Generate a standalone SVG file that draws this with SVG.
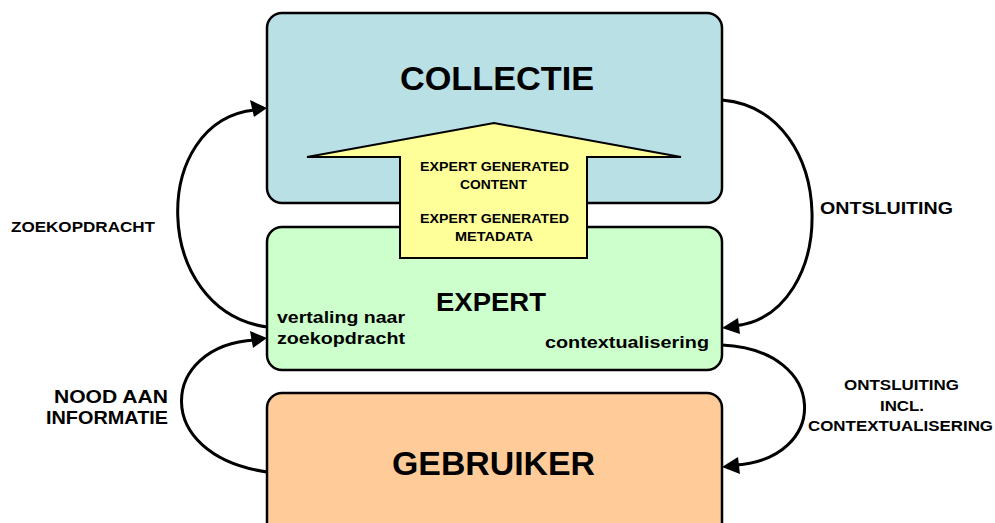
<svg xmlns="http://www.w3.org/2000/svg" width="995" height="523" viewBox="0 0 995 523">
<style>
.box{stroke:#000;stroke-width:2.5}
.t{font-family:"Liberation Sans",Arial,sans-serif;font-weight:bold;fill:#000}
.arc{fill:none;stroke:#000;stroke-width:3}
</style>
<rect width="995" height="523" fill="#fff"/>
<g id="collectie">
<rect class="box" x="267" y="13" width="455" height="190" rx="15" fill="#b9e0e4"/>
<text class="t" x="400" y="90" font-size="34" textLength="194" lengthAdjust="spacingAndGlyphs">COLLECTIE</text>
</g>
<g id="expert">
<rect class="box" x="267" y="227" width="455" height="143" rx="15" fill="#ccffcc"/>
<text class="t" x="436" y="311" font-size="26" textLength="110" lengthAdjust="spacingAndGlyphs">EXPERT</text>
<text class="t" x="277" y="323" font-size="16.5" textLength="128" lengthAdjust="spacingAndGlyphs">vertaling naar</text>
<text class="t" x="277" y="344" font-size="16.5" textLength="128" lengthAdjust="spacingAndGlyphs">zoekopdracht</text>
<text class="t" x="545" y="348" font-size="16.5" textLength="164" lengthAdjust="spacingAndGlyphs">contextualisering</text>
</g>
<g id="gebruiker">
<rect class="box" x="267" y="393" width="455" height="145" rx="15" fill="#ffcc99"/>
<text class="t" x="392" y="475" font-size="34" textLength="203" lengthAdjust="spacingAndGlyphs">GEBRUIKER</text>
</g>
<g id="generated">
<polygon points="307,157 494,123 681,157 587,157 587,258 400,258 400,157" fill="#ffff99" stroke="#000" stroke-width="2"/>
<text class="t" x="420" y="171" font-size="12.5" textLength="149" lengthAdjust="spacingAndGlyphs">EXPERT GENERATED</text>
<text class="t" x="460" y="189" font-size="12.5" textLength="67" lengthAdjust="spacingAndGlyphs">CONTENT</text>
<text class="t" x="420" y="223" font-size="12.5" textLength="149" lengthAdjust="spacingAndGlyphs">EXPERT GENERATED</text>
<text class="t" x="455" y="241" font-size="12.5" textLength="78" lengthAdjust="spacingAndGlyphs">METADATA</text>
</g>
<g id="connectors">
<path class="arc" d="M267,327 C150,310 150,120 255,110"/>
<polygon points="267,108 250,100 254,117"/>
<path class="arc" d="M722,100 C840,110 840,315 734,326"/>
<polygon points="722,328 738,318 740,334"/>
<path class="arc" d="M267,472 C150,455 160,345 255,340"/>
<polygon points="267,338 250,331 253,348"/>
<path class="arc" d="M722,345 C830,350 830,460 734,465"/>
<polygon points="722,467 738,457 740,474"/>
</g>
<g id="labels">
<text class="t" x="11" y="232" font-size="14" textLength="144" lengthAdjust="spacingAndGlyphs">ZOEKOPDRACHT</text>
<text class="t" x="54" y="403" font-size="18" textLength="114" lengthAdjust="spacingAndGlyphs">NOOD AAN</text>
<text class="t" x="46" y="424" font-size="18" textLength="122" lengthAdjust="spacingAndGlyphs">INFORMATIE</text>
<text class="t" x="820" y="214" font-size="16.5" textLength="133" lengthAdjust="spacingAndGlyphs">ONTSLUITING</text>
<text class="t" x="844" y="390" font-size="14" textLength="115" lengthAdjust="spacingAndGlyphs">ONTSLUITING</text>
<text class="t" x="880" y="411" font-size="14" textLength="44" lengthAdjust="spacingAndGlyphs">INCL.</text>
<text class="t" x="808" y="431" font-size="14" textLength="185" lengthAdjust="spacingAndGlyphs">CONTEXTUALISERING</text>
</g>
</svg>
